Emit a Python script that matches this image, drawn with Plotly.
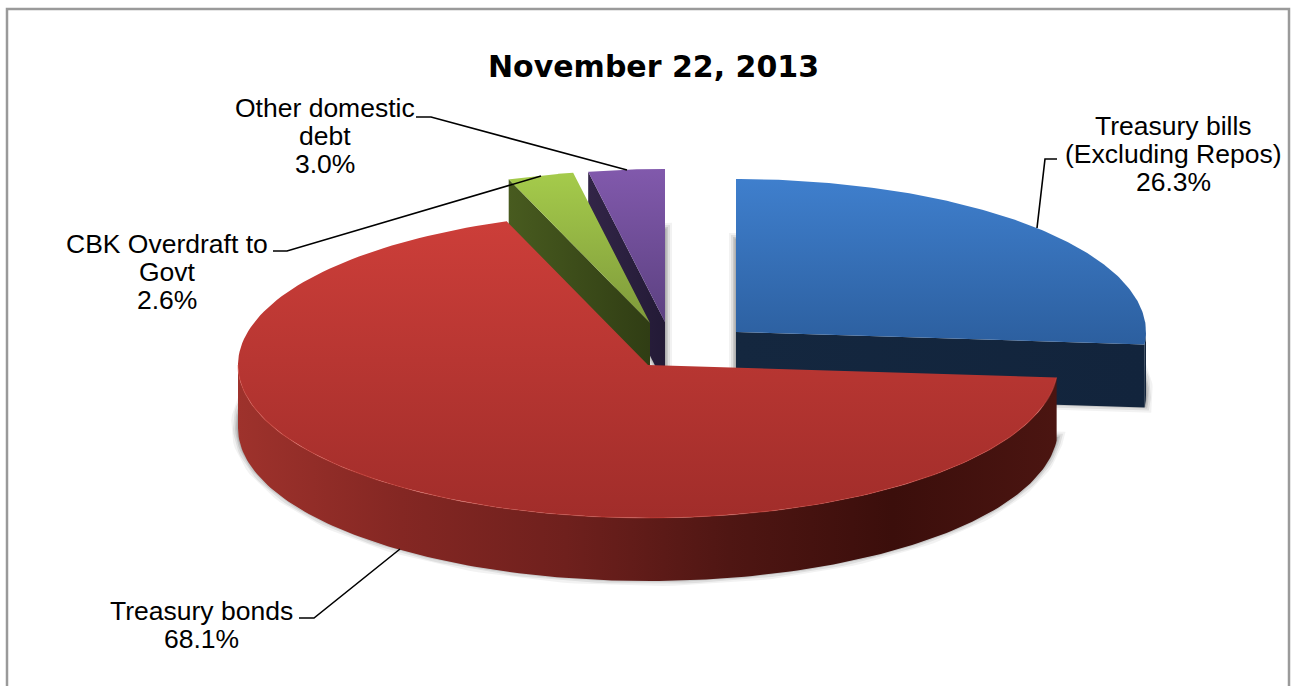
import numpy as np
import plotly.graph_objects as go

# Debt composition, share of total in percent
categories = ["Treasury bills", "Treasury bonds", "CBK Overdraft", "Other domestic"]
shares = [26.3, 68.1, 2.6, 3.0]
label_lines = [
    ["Treasury bills", "(Excluding Repos)"],
    ["Treasury bonds"],
    ["CBK Overdraft to", "Govt"],
    ["Other domestic", "debt"],
]
chart_title = "November 22, 2013"

# Pie projection, in page pixels
WIDTH, HEIGHT = 1292, 686
RX, RY, DEPTH = 410, 153, 63
APEX = [(736, 332), (648, 365), (650, 323), (665, 322)]

TOP_COLORS = [
    ("#3f7fcd", "#2c5f9f"),
    ("#cc3e39", "#a12d2a"),
    ("#a5cb4b", "#7f9a3b"),
    ("#8159ac", "#5c4181"),
]
# Exposed radial wall per slice: which edge shows, and its colours
RADIAL_EDGE = [1, None, 0, 0]
RADIAL_WALL = [
    ("#14273f", "#12243c"),
    None,
    ("#485b1f", "#303d14"),
    ("#322547", "#231a36"),
]
RED_WALL = [
    [0.00, "#9e322c"], [0.20, "#842723"], [0.40, "#6f201d"],
    [0.60, "#4f1613"], [0.80, "#3b0e0b"], [1.00, "#4b1511"],
]
LABEL_POS = [(1173, [126, 154, 182]), (201, [611, 639]),
             (167, [244, 272, 300]), (325, [108, 136, 164])]
LEADERS = [
    ([1057, 1045, 1037], [159, 159, 228]),
    ([299, 314, 400], [618, 618, 549]),
    ([273, 287, 541], [251, 251, 176]),
    ([416, 431, 627], [117, 117, 170]),
]

# Clockwise slice angles, measured from twelve o'clock
edges = np.radians(np.concatenate([[0.0], np.cumsum(shares)]) / sum(shares) * 360)


def rim(apex, a0, a1, n=160):
    t = np.linspace(a0, a1, n)
    return apex[0] + RX * np.sin(t), apex[1] - RY * np.cos(t)


def radial_edge(apex, a):
    return (np.array([apex[0], apex[0] + RX * np.sin(a)]),
            np.array([apex[1], apex[1] - RY * np.cos(a)]))


def face(apex, a0, a1):
    x, y = rim(apex, a0, a1)
    return np.r_[apex[0], x, apex[0]], np.r_[apex[1], y, apex[1]]


def polygon(x, y, stops, kind):
    lo, hi = (min(x), max(x)) if kind == "horizontal" else (min(y), max(y))
    return go.Scatter(
        x=x, y=y, mode="lines", fill="toself", line=dict(width=0),
        fillgradient=dict(type=kind, colorscale=stops, start=lo, stop=hi),
        hoverinfo="skip", showlegend=False,
    )


fig = go.Figure()

# Soft drop shadow under each slice
for i, apex in enumerate(APEX):
    x, y = face(apex, edges[i], edges[i + 1])
    for width, alpha in [(14, 0.05), (10, 0.08), (6, 0.10), (3, 0.12)]:
        fig.add_trace(go.Scatter(
            x=x, y=y + DEPTH - 2, mode="lines", fill="toself",
            line=dict(width=width, color=f"rgba(0,0,0,{alpha})"),
            fillcolor="rgba(0,0,0,0)", hoverinfo="skip", showlegend=False,
        ))


def draw_slice(i):
    apex, a0, a1 = APEX[i], edges[i], edges[i + 1]
    wall = RADIAL_WALL[i]
    if wall is not None:
        ex, ey = radial_edge(apex, a1 if RADIAL_EDGE[i] else a0)
        px = np.r_[ex, ex[::-1], ex[0]]
        py = np.r_[ey, ey[::-1] + DEPTH, ey[0]]
        fig.add_trace(polygon(px, py, [[0, wall[0]], [1, wall[1]]], "horizontal"))
    # curved outer wall on the near half of the rim
    lo, hi = max(a0, np.pi / 2), min(a1, 3 * np.pi / 2)
    if hi > lo:
        rx, ry = rim(apex, lo, hi)
        px = np.r_[rx, rx[::-1], rx[0]]
        py = np.r_[ry, ry[::-1] + DEPTH, ry[0]]
        stops = RED_WALL if i == 1 else [[0, wall[0]], [1, wall[1]]]
        fig.add_trace(polygon(px, py, stops, "horizontal"))
    # top face
    tx, ty = face(apex, a0, a1)
    fig.add_trace(polygon(tx, ty, [[0, TOP_COLORS[i][0]], [1, TOP_COLORS[i][1]]], "vertical"))
    # faint bevel along the near rim of the large slice
    if i == 1:
        rx, ry = rim(apex, lo, hi)
        fig.add_trace(go.Scatter(
            x=rx, y=ry, mode="lines", line=dict(width=1.2, color="rgba(222,80,70,0.4)"),
            hoverinfo="skip", showlegend=False,
        ))


# Back-to-front painting order
for i in [0, 3, 2, 1]:
    draw_slice(i)

# Leader lines
for lx, ly in LEADERS:
    fig.add_trace(go.Scatter(
        x=lx, y=ly, mode="lines", line=dict(width=1.6, color="#000000"),
        hoverinfo="skip", showlegend=False,
    ))

# Slice labels, one annotation per line for tight leading
annotations = []
for i, (cx, ys) in enumerate(LABEL_POS):
    for text, y in zip(label_lines[i] + [f"{shares[i]:.1f}%"], ys):
        annotations.append(dict(
            x=cx, y=y, xref="x", yref="y", text=text, showarrow=False,
            xanchor="center", yanchor="middle",
            font=dict(family="Liberation Sans", size=26.5, color="#000000"),
        ))
annotations.append(dict(
    x=653, y=66, xref="x", yref="y", text=f"<b>{chart_title}</b>", showarrow=False,
    xanchor="center", yanchor="middle",
    font=dict(family="DejaVu Sans", size=30, color="#000000"),
))

fig.update_layout(
    width=WIDTH, height=HEIGHT, autosize=False,
    margin=dict(l=0, r=0, t=0, b=0),
    paper_bgcolor="#ffffff", plot_bgcolor="#ffffff", showlegend=False,
    xaxis=dict(range=[0, WIDTH], visible=False, fixedrange=True),
    yaxis=dict(range=[HEIGHT, 0], visible=False, fixedrange=True),
    annotations=annotations,
    shapes=[dict(
        type="path", path=f"M 7 {HEIGHT} L 7 9 L 1289 9 L 1289 {HEIGHT}",
        xref="x", yref="y", line=dict(color="#9a9a9a", width=2.5),
    )],
)

fig.write_html("out.html", config={"displayModeBar": False})
